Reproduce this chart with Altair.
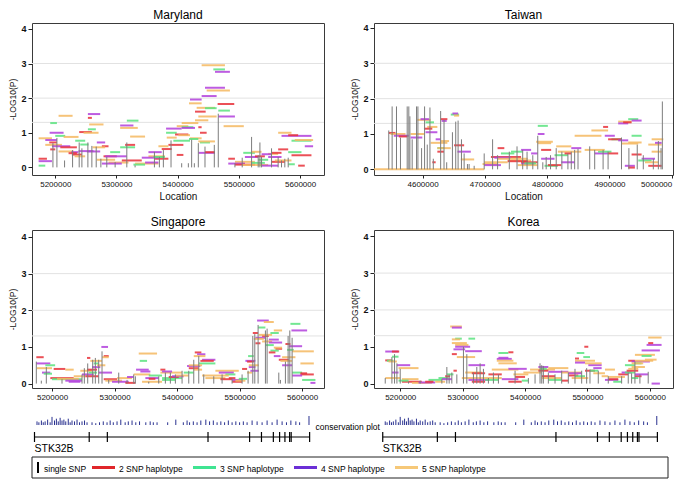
import altair as alt
import pandas as pd

FONT = "Liberation Sans"

# ---------------- shared categories / styles ----------------
hap_types = ["2 SNP haplotype", "3 SNP haplotype", "4 SNP haplotype", "5 SNP haplotype"]
hap_colors = ["#e8313a", "#5be37f", "#b23fdc", "#f5b860"]
legend_hap_colors = ["#e0262a", "#3fe492", "#6b2fd6", "#f6c878"]
ref_lines = [1.3, 2, 3]
y_ticks = [0, 1, 2, 3, 4]
x_ticks_chr = [5200000, 5300000, 5400000, 5500000, 5600000]
x_ticks_tw = [4600000, 4700000, 4800000, 4900000, 5000000]

# ---------------- Maryland ----------------
md_snp = [
    (5196200, 0.70), (5202700, 0.85), (5215200, 0.20), (5228300, 0.50), (5239100, 0.72),
    (5243500, 0.55), (5253300, 0.72), (5259800, 0.62), (5266900, 0.60), (5274500, 0.25),
    (5284200, 0.30), (5297800, 0.15), (5316900, 0.72), (5330400, 0.06), (5362000, 0.45),
    (5370100, 0.30), (5376600, 0.50), (5389100, 0.78), (5406500, 0.12), (5417400, 0.12),
    (5422800, 0.80), (5427200, 0.12), (5433700, 0.70), (5444600, 0.60), (5459800, 0.65),
    (5466300, 1.55), (5493500, 0.12), (5505400, 0.28), (5520700, 0.88), (5531500, 0.35),
    (5534300, 0.72), (5537000, 0.30), (5553300, 0.55), (5564100, 0.30), (5569600, 0.20),
    (5575000, 0.25), (5580500, 0.28),
]
md_hap = [
    (5205400, 5228300, 1.49, 5), (5191800, 5202700, 1.28, 3), (5190800, 5213600, 1.00, 4),
    (5200000, 5216300, 0.91, 3), (5213600, 5238000, 0.88, 5), (5172800, 5194600, 0.84, 5),
    (5183700, 5202700, 0.79, 4), (5190200, 5202700, 0.72, 2), (5183700, 5210900, 0.65, 5),
    (5194600, 5224500, 0.61, 4), (5208200, 5235300, 0.58, 2), (5205400, 5229900, 0.46, 5),
    (5172800, 5186400, 0.25, 2), (5172800, 5194600, 0.18, 4), (5172800, 5183700, 0.05, 3),
    (5191800, 5200000, 0.52, 2), (5239100, 5259800, 1.02, 2), (5246200, 5270700, 1.00, 5),
    (5232600, 5248900, 0.77, 3), (5240800, 5254400, 0.66, 3), (5238000, 5262500, 0.47, 4),
    (5226100, 5238000, 0.44, 4), (5227200, 5243500, 0.37, 2), (5231500, 5248900, 0.32, 5),
    (5221700, 5235300, 0.41, 2), (5253300, 5273400, 1.54, 4), (5253300, 5259800, 1.43, 2),
    (5253300, 5266300, 1.10, 3), (5255400, 5278800, 1.24, 5), (5251600, 5273400, 0.46, 4),
    (5267900, 5281500, 0.72, 4), (5276100, 5287000, 0.61, 2), (5260900, 5281500, 0.58, 5),
    (5278800, 5300500, 0.32, 2), (5281500, 5316900, 0.32, 4), (5289700, 5306000, 0.44, 3),
    (5267900, 5297800, 0.22, 5), (5287000, 5319600, 0.14, 5), (5306000, 5330400, 0.58, 3),
    (5314100, 5330400, 0.65, 2), (5306000, 5327700, 1.21, 4), (5316900, 5335900, 1.35, 3),
    (5306000, 5334800, 1.14, 5), (5322300, 5346700, 0.89, 5), (5308700, 5341300, 0.20, 2),
    (5276100, 5308700, 0.11, 4), (5330400, 5368500, 0.11, 5), (5327700, 5346700, 0.08, 3),
    (5346700, 5368500, 0.14, 4), (5352200, 5379300, 0.32, 5), (5352200, 5373900, 0.44, 4),
    (5363000, 5384800, 0.25, 2), (5341300, 5368500, 0.28, 4), (5373900, 5390200, 0.53, 2),
    (5360300, 5379300, 0.30, 3), (5381000, 5406500, 1.12, 4), (5398400, 5417400, 1.19, 5),
    (5381000, 5398400, 1.00, 3), (5382100, 5398400, 0.86, 5), (5395700, 5417400, 0.95, 2),
    (5401100, 5420100, 0.93, 5), (5384800, 5409300, 0.65, 2), (5368500, 5384800, 0.61, 5),
    (5392900, 5420100, 0.77, 3), (5398400, 5409300, 0.36, 2),
    (5439100, 5477200, 2.95, 5), (5458200, 5477200, 2.83, 3), (5460900, 5485300, 2.76, 4),
    (5444600, 5477200, 2.30, 4), (5447300, 5485300, 2.22, 5), (5439100, 5463600, 2.06, 4),
    (5420100, 5439100, 1.96, 4), (5418500, 5439100, 1.85, 5), (5465200, 5492400, 1.83, 2),
    (5431000, 5460900, 1.72, 5), (5444600, 5463600, 1.71, 3), (5466300, 5485300, 1.64, 3),
    (5428300, 5445700, 1.61, 2), (5433700, 5463600, 1.47, 5), (5466300, 5493500, 1.47, 4),
    (5428300, 5450000, 1.36, 5), (5406500, 5433700, 1.28, 5), (5475000, 5508000, 1.19, 5),
    (5433700, 5439100, 1.16, 2), (5406500, 5425600, 1.16, 3), (5406500, 5428300, 1.14, 4),
    (5436400, 5447300, 1.00, 2), (5420100, 5439100, 0.84, 5), (5418500, 5433700, 0.82, 3),
    (5436400, 5452700, 0.72, 3), (5433700, 5460900, 0.75, 5), (5433700, 5460900, 0.42, 4),
    (5444600, 5460900, 0.44, 2),
    (5564100, 5585900, 1.00, 5), (5569600, 5618500, 0.91, 4), (5580500, 5596800, 0.93, 2),
    (5585900, 5618500, 0.77, 3), (5591300, 5621200, 0.79, 5), (5607600, 5621200, 0.61, 4),
    (5564100, 5580500, 0.52, 2), (5580500, 5602200, 0.44, 3), (5547800, 5564100, 0.39, 5),
    (5585900, 5618500, 0.35, 2), (5507100, 5526100, 0.42, 3), (5482600, 5493500, 0.25, 2),
    (5509800, 5531500, 0.30, 4), (5526100, 5542400, 0.32, 2), (5531500, 5547800, 0.22, 3),
    (5493500, 5526100, 0.16, 5), (5482600, 5509800, 0.11, 4), (5493500, 5526100, 0.08, 2),
    (5505400, 5547800, 0.07, 5), (5520700, 5542400, 0.13, 3), (5537000, 5564100, 0.05, 4),
    (5553300, 5575000, 0.16, 2), (5558700, 5585900, 0.20, 5), (5547800, 5569600, 0.30, 4),
    (5596800, 5607600, 0.05, 2), (5580500, 5591300, 0.09, 3), (5520700, 5537000, 0.45, 5),
    (5537000, 5553300, 0.38, 4), (5553300, 5569600, 0.42, 2),
]

# ---------------- Taiwan ----------------
tw_snp = [
    (4545700, 1.10), (4551100, 1.78), (4558100, 1.78), (4564500, 0.90), (4575300, 1.78),
    (4577900, 1.78), (4579600, 1.50), (4583300, 0.85), (4590300, 1.78), (4592500, 1.78),
    (4598400, 0.60), (4603200, 1.78), (4607500, 0.70), (4611800, 1.75), (4617200, 0.30),
    (4629000, 1.65), (4634400, 1.40), (4638700, 0.20), (4647900, 1.05), (4653200, 1.35),
    (4657000, 1.38), (4662400, 0.85), (4666700, 0.45), (4672000, 0.15), (4674700, 0.15),
    (4682800, 0.10), (4698900, 0.45), (4712400, 0.85), (4720400, 0.40), (4739200, 0.50),
    (4751600, 0.65), (4760700, 0.55), (4767700, 0.50), (4776900, 0.40), (4784900, 0.95),
    (4793000, 0.20), (4798400, 0.35), (4805400, 0.40), (4814500, 0.60), (4823600, 0.50),
    (4833300, 0.45), (4838700, 0.50), (4844100, 0.55), (4849500, 0.58), (4868300, 0.65),
    (4876300, 0.55), (4889800, 0.55), (4897800, 0.50), (4919300, 0.90), (4931200, 0.60),
    (4944600, 0.70), (4954300, 0.40), (4970400, 0.30), (4978500, 0.80), (4982800, 0.60),
    (4984900, 1.92),
]
tw_hap = [
    (4521500, 4698900, 0.00, 5), (4545700, 4556500, 1.03, 2), (4548400, 4572600, 1.00, 5),
    (4553800, 4577900, 0.95, 4), (4561800, 4575300, 0.93, 2), (4591400, 4612900, 1.40, 5),
    (4596700, 4610200, 1.42, 4), (4604800, 4618300, 1.33, 3), (4607500, 4623700, 1.20, 5),
    (4602200, 4615600, 1.15, 2), (4604800, 4623700, 1.05, 4), (4580700, 4602200, 1.00, 5),
    (4580700, 4599500, 0.90, 4), (4621000, 4629000, 0.85, 4), (4612900, 4639800, 0.75, 5),
    (4629000, 4639800, 1.42, 2), (4630600, 4638700, 1.37, 4), (4645200, 4658600, 1.55, 3),
    (4647900, 4657000, 1.58, 4), (4650500, 4658600, 1.52, 5), (4629000, 4642500, 0.80, 5),
    (4650500, 4666700, 0.68, 2), (4655900, 4677400, 0.50, 4), (4623700, 4634400, 0.60, 3),
    (4623700, 4645200, 0.60, 5), (4623700, 4634400, 0.50, 2), (4615600, 4621000, 0.20, 2),
    (4661300, 4682800, 0.28, 5), (4720400, 4731200, 0.60, 2), (4696200, 4720400, 0.15, 5),
    (4698900, 4736600, 0.20, 5), (4698900, 4725800, 0.12, 4), (4725800, 4747300, 0.45, 3),
    (4709700, 4758100, 0.35, 2), (4715100, 4741900, 0.33, 4), (4720400, 4768800, 0.30, 5),
    (4736600, 4774200, 0.25, 5), (4736600, 4768800, 0.23, 2), (4741900, 4760700, 0.50, 3),
    (4758100, 4774200, 0.55, 4), (4758100, 4784900, 0.20, 2), (4758100, 4779600, 0.15, 4),
    (4752700, 4784900, 0.12, 5), (4763400, 4782300, 0.17, 3), (4784900, 4801100, 1.23, 3),
    (4784900, 4795700, 1.00, 4), (4782300, 4809100, 0.78, 5), (4784900, 4806400, 0.74, 5),
    (4774200, 4784900, 0.45, 4), (4814500, 4838700, 0.65, 5), (4790300, 4806400, 0.55, 2),
    (4790300, 4811800, 0.30, 4), (4795700, 4817200, 0.10, 3), (4801100, 4822600, 0.12, 2),
    (4817200, 4854800, 0.50, 5), (4838700, 4854800, 0.60, 4), (4811800, 4833300, 0.40, 3),
    (4827900, 4838700, 0.45, 2), (4822600, 4844100, 0.20, 4), (4844100, 4887100, 0.95, 5),
    (4871000, 4897800, 1.10, 5), (4889800, 4897800, 1.20, 2), (4892500, 4908600, 0.95, 4),
    (4903200, 4919300, 0.85, 3), (4897800, 4919300, 0.85, 2), (4914000, 4930100, 0.82, 4),
    (4919300, 4946200, 0.73, 5), (4930100, 4951600, 0.76, 5), (4935500, 4951600, 0.95, 3),
    (4914000, 4935500, 1.35, 5), (4930100, 4946200, 1.42, 3), (4935500, 4951600, 1.38, 4),
    (4914000, 4930100, 1.30, 4), (4922000, 4935500, 1.33, 2), (4876300, 4897800, 0.45, 4),
    (4881700, 4903200, 0.50, 3), (4860200, 4892500, 0.55, 5), (4897800, 4914000, 0.45, 2),
    (4935500, 4951600, 0.42, 2), (4951600, 4973100, 0.30, 4), (4946200, 4967700, 0.25, 3),
    (4957000, 4978500, 0.20, 5), (4962300, 4983800, 0.10, 2), (4962300, 4983800, 0.70, 5),
    (4973100, 4983800, 0.75, 4), (4967700, 4986500, 0.85, 5), (4967700, 4983800, 0.50, 5),
    (4924700, 4940800, 0.10, 4), (4930100, 4940800, 0.05, 2),
]

# ---------------- Singapore ----------------
sg_snp = [
    (5174900, 0.60), (5182900, 0.08), (5190900, 0.45), (5216000, 0.12), (5248000, 0.25),
    (5251700, 0.42), (5257100, 0.55), (5265100, 0.65), (5269300, 0.70), (5274700, 0.65),
    (5280000, 0.88), (5290700, 0.10), (5306700, 0.30), (5320000, 0.10), (5330700, 0.25),
    (5333300, 0.20), (5354700, 0.05), (5370700, 0.20), (5381300, 0.30), (5389300, 0.30),
    (5397300, 0.25), (5408000, 0.35), (5418700, 0.35), (5426700, 0.65), (5434700, 0.75),
    (5442700, 0.25), (5458700, 0.20), (5472000, 0.25), (5488000, 0.15), (5504000, 0.25),
    (5513600, 0.35), (5521100, 1.30), (5524300, 1.35), (5529600, 1.60), (5541300, 1.45),
    (5544000, 1.50), (5562700, 0.30), (5565300, 0.10), (5573300, 0.60), (5577600, 1.30),
    (5580300, 1.45), (5584000, 1.25),
]
sg_hap = [
    (5174900, 5186700, 0.72, 2), (5174900, 5197300, 0.55, 4), (5176000, 5200000, 0.42, 5),
    (5189300, 5205000, 0.50, 3), (5202700, 5221300, 0.40, 2), (5221300, 5234700, 0.38, 5),
    (5184000, 5197300, 0.30, 4), (5186700, 5200000, 0.27, 3), (5197300, 5234700, 0.15, 2),
    (5200000, 5248000, 0.12, 3), (5208000, 5242700, 0.13, 5), (5221300, 5248000, 0.08, 4),
    (5234700, 5253300, 0.20, 5), (5226700, 5245300, 0.05, 4), (5256000, 5261300, 0.70, 2),
    (5245300, 5264000, 0.35, 5), (5248000, 5266700, 0.25, 4), (5253300, 5274700, 0.20, 2),
    (5258700, 5272000, 0.30, 3), (5266700, 5274700, 0.55, 3), (5264000, 5277300, 0.45, 4),
    (5256000, 5272000, 0.38, 2), (5261300, 5280000, 0.62, 5), (5278900, 5289600, 1.00, 4),
    (5282700, 5290700, 0.75, 2), (5280000, 5290700, 0.72, 5), (5272000, 5285300, 0.50, 5),
    (5274700, 5296000, 0.30, 4), (5282700, 5304000, 0.12, 2), (5285300, 5312000, 0.08, 5),
    (5296000, 5322700, 0.05, 4), (5304000, 5328000, 0.15, 5), (5317300, 5333300, 0.02, 2),
    (5320000, 5330700, 0.18, 4), (5338700, 5368000, 0.82, 5), (5340300, 5352000, 0.62, 3),
    (5334400, 5354700, 0.38, 4), (5341300, 5357300, 0.33, 4), (5330700, 5357300, 0.25, 5),
    (5354700, 5376000, 0.22, 3), (5349300, 5370700, 0.15, 4), (5354700, 5365300, 0.13, 2),
    (5344000, 5376000, 0.05, 5), (5373300, 5381300, 0.38, 2), (5373300, 5408000, 0.30, 5),
    (5376000, 5392000, 0.33, 4), (5376000, 5408000, 0.15, 3), (5386700, 5402700, 0.18, 2),
    (5392000, 5410700, 0.20, 4), (5397300, 5418700, 0.22, 5), (5376000, 5397300, 0.10, 3),
    (5428300, 5438900, 0.85, 2), (5432000, 5445300, 0.80, 4), (5426700, 5445300, 0.75, 5),
    (5440000, 5461300, 0.65, 4), (5437300, 5458700, 0.62, 2), (5434700, 5461300, 0.55, 3),
    (5416000, 5437300, 0.48, 4), (5418700, 5440000, 0.50, 5), (5418700, 5434700, 0.42, 2),
    (5426700, 5440000, 0.38, 5), (5410700, 5426700, 0.30, 3), (5445300, 5477300, 0.15, 5),
    (5461300, 5498700, 0.35, 5), (5466700, 5490700, 0.30, 4), (5477300, 5493300, 0.25, 3),
    (5440000, 5482700, 0.22, 5), (5469300, 5488000, 0.12, 2), (5488000, 5504000, 0.10, 4),
    (5488000, 5504000, 0.05, 2), (5493300, 5509300, 0.08, 5), (5498700, 5512000, 0.13, 3),
    (5482700, 5493300, 0.15, 2), (5504000, 5512000, 0.40, 2), (5512000, 5520000, 0.30, 5),
    (5509300, 5525300, 0.62, 4), (5512000, 5522700, 0.60, 2), (5513600, 5522700, 0.75, 3),
    (5514700, 5525300, 0.45, 4), (5517300, 5530700, 0.35, 4), (5514700, 5530700, 0.50, 5),
    (5521100, 5529600, 1.38, 2), (5528000, 5546700, 1.72, 4), (5538700, 5554700, 1.68, 5),
    (5529600, 5541300, 1.53, 3), (5536000, 5546700, 1.30, 2), (5530700, 5552000, 1.33, 5),
    (5525300, 5541300, 1.25, 4), (5522700, 5538700, 1.22, 5), (5525300, 5533300, 1.10, 2),
    (5554700, 5568000, 1.45, 5), (5549300, 5562700, 1.38, 3), (5546700, 5562700, 1.20, 4),
    (5536000, 5552000, 1.15, 5), (5546700, 5568000, 1.12, 4), (5541300, 5554700, 1.05, 3),
    (5557300, 5568000, 0.95, 2), (5554700, 5568000, 0.98, 5), (5549300, 5562700, 0.90, 3),
    (5546700, 5557300, 0.85, 2), (5554700, 5565300, 0.75, 4), (5573300, 5581300, 1.08, 2),
    (5578700, 5600000, 1.02, 4), (5576000, 5586700, 0.92, 3), (5584000, 5618700, 0.88, 5),
    (5568000, 5589300, 0.72, 5), (5562700, 5578700, 0.65, 2), (5565300, 5584000, 0.62, 5),
    (5568000, 5584000, 0.50, 4), (5584000, 5600000, 0.30, 3), (5597300, 5608000, 0.28, 2),
    (5597300, 5618700, 0.25, 2), (5584000, 5600000, 0.22, 4), (5600000, 5621300, 0.10, 3),
    (5613300, 5621300, 0.02, 4), (5581300, 5597300, 1.63, 3), (5582900, 5608000, 1.45, 4),
    (5597300, 5618700, 0.55, 5),
]

# ---------------- Korea ----------------
ko_snp = [
    (5176000, 0.15), (5186700, 0.72), (5190900, 0.80), (5194700, 0.55), (5200000, 0.40),
    (5213300, 0.05), (5232000, 0.08), (5266700, 0.12), (5274700, 0.45), (5278400, 0.25),
    (5282700, 0.30), (5290700, 0.25), (5301300, 1.00), (5306700, 0.80), (5317300, 0.30),
    (5322700, 0.45), (5328000, 0.55), (5333300, 0.40), (5341300, 0.15), (5349300, 0.30),
    (5357300, 0.25), (5384000, 0.35), (5405300, 0.15), (5416000, 0.25), (5424000, 0.55),
    (5426700, 0.50), (5429300, 0.48), (5437300, 0.30), (5448000, 0.25), (5458700, 0.35),
    (5469300, 0.30), (5480000, 0.40), (5490700, 0.35), (5498700, 0.42), (5504000, 0.38),
    (5517300, 0.35), (5533300, 0.20), (5554700, 0.20), (5565300, 0.30), (5570700, 0.28),
    (5576000, 0.60), (5584000, 0.25), (5597300, 0.32),
]
ko_hap = [
    (5176000, 5197300, 0.87, 4), (5186700, 5198400, 0.87, 2), (5176000, 5186700, 0.63, 2),
    (5178700, 5189300, 0.62, 3), (5186700, 5197300, 0.73, 3), (5181300, 5194700, 0.60, 5),
    (5194700, 5216000, 0.50, 4), (5197300, 5229300, 0.42, 5), (5186700, 5197300, 0.30, 4),
    (5176000, 5200000, 0.15, 5), (5202700, 5229300, 0.12, 5), (5202700, 5234700, 0.05, 2),
    (5197300, 5213300, 0.08, 3), (5218700, 5250700, 0.02, 5), (5229300, 5256000, 0.03, 4),
    (5245300, 5266700, 0.10, 3), (5240000, 5253300, 0.05, 2), (5256000, 5272000, 0.05, 5),
    (5261300, 5277300, 0.15, 3), (5266700, 5282700, 0.12, 4), (5272000, 5280000, 0.20, 2),
    (5274700, 5285300, 0.25, 3), (5285300, 5290700, 0.35, 2), (5280000, 5298700, 1.55, 5),
    (5282700, 5298700, 1.52, 4), (5288000, 5298700, 1.22, 3), (5282700, 5296000, 1.20, 5),
    (5309300, 5320000, 1.22, 3), (5282700, 5306700, 1.10, 5), (5288000, 5309300, 1.05, 5),
    (5288000, 5312000, 1.00, 4), (5285300, 5304000, 0.93, 4), (5304000, 5330700, 0.88, 4),
    (5282700, 5290700, 0.80, 2), (5290700, 5320000, 0.72, 5), (5309300, 5336000, 0.50, 4),
    (5304000, 5330700, 0.30, 5), (5314700, 5336000, 0.28, 2), (5298700, 5330700, 0.15, 5),
    (5309300, 5341300, 0.10, 4), (5314700, 5336000, 0.05, 2), (5357300, 5373300, 0.83, 3),
    (5373300, 5381300, 0.85, 2), (5354700, 5378700, 0.67, 4), (5354700, 5381300, 0.62, 5),
    (5357300, 5386700, 0.55, 5), (5357300, 5373300, 0.70, 4), (5346700, 5389300, 0.38, 5),
    (5373300, 5402700, 0.40, 4), (5341300, 5362700, 0.25, 2), (5330700, 5362700, 0.15, 5),
    (5336000, 5357300, 0.10, 3), (5362700, 5389300, 0.12, 4), (5373300, 5394700, 0.05, 2),
    (5381300, 5405300, 0.25, 5), (5384000, 5400000, 0.18, 2), (5394700, 5405300, 0.08, 3),
    (5397300, 5426700, 0.30, 5), (5408000, 5448000, 0.38, 5), (5421300, 5437300, 0.35, 2),
    (5421300, 5437300, 0.45, 4), (5424000, 5434700, 0.40, 3), (5437300, 5469300, 0.42, 5),
    (5437300, 5469300, 0.32, 4), (5426700, 5448000, 0.20, 2), (5426700, 5458700, 0.15, 5),
    (5437300, 5458700, 0.10, 3), (5458700, 5469300, 0.08, 2), (5458700, 5490700, 0.30, 5),
    (5469300, 5490700, 0.28, 4), (5469300, 5485300, 0.22, 2), (5480000, 5496000, 0.20, 3),
    (5474700, 5501300, 0.15, 5), (5480000, 5486400, 0.68, 2), (5482700, 5494900, 0.83, 3),
    (5480000, 5512000, 0.62, 5), (5480000, 5496000, 0.57, 4), (5501300, 5522700, 0.50, 4),
    (5494900, 5501300, 1.00, 2), (5493300, 5504000, 0.72, 3), (5496000, 5522700, 0.55, 5),
    (5496000, 5512000, 0.35, 2), (5504000, 5517300, 0.35, 3), (5509300, 5528000, 0.28, 5),
    (5522700, 5533300, 0.20, 5), (5528000, 5549300, 0.10, 4), (5533300, 5549300, 0.12, 2),
    (5533300, 5560000, 0.18, 5), (5541300, 5554700, 0.05, 3), (5509300, 5522700, 0.42, 4),
    (5528000, 5544000, 0.38, 5), (5549300, 5565300, 0.25, 2), (5554700, 5570700, 0.30, 4),
    (5560000, 5576000, 0.30, 3), (5562700, 5581300, 0.35, 2), (5565300, 5581300, 0.40, 5),
    (5560000, 5576000, 0.50, 3), (5565300, 5576000, 0.62, 2), (5570700, 5600000, 0.60, 4),
    (5576000, 5605300, 0.62, 5), (5576000, 5586700, 0.55, 3), (5576000, 5608000, 0.78, 5),
    (5586700, 5602700, 0.75, 3), (5586700, 5616000, 0.90, 4), (5597300, 5618700, 1.25, 5),
    (5594700, 5618700, 1.05, 4), (5597300, 5605300, 1.10, 2), (5592000, 5610700, 0.65, 5),
    (5576000, 5586700, 0.20, 2), (5570700, 5581300, 0.15, 3), (5576000, 5597300, 0.25, 4),
    (5602700, 5616000, 0.00, 4), (5570700, 5589300, 0.55, 5), (5570700, 5592000, 0.45, 5),
]

# ---------------- gene track (STK32B) ----------------
gene_name = "STK32B"
gene_span = (5172000, 5612000)
exon_pos = [5172000, 5259500, 5288500, 5449500, 5516000, 5535000, 5554000,
            5564000, 5572500, 5580000, 5582500, 5612000]
cons = [
    (5176000, 0.4), (5179000, 0.3), (5183000, 0.5), (5186000, 0.3), (5189000, 0.4),
    (5193000, 0.6), (5197000, 0.3), (5200000, 0.9), (5204000, 0.5), (5207000, 0.7),
    (5210000, 0.4), (5213000, 0.8), (5216000, 0.5), (5219000, 0.6), (5222000, 0.4),
    (5226000, 0.7), (5229000, 0.3), (5232000, 0.5), (5236000, 0.4), (5240000, 0.6),
    (5244000, 0.3), (5248000, 0.4), (5252000, 0.5), (5256000, 0.3), (5264000, 0.3),
    (5270000, 0.2), (5276000, 0.3), (5282000, 0.4), (5288000, 0.3), (5293000, 0.5),
    (5298000, 0.3), (5304000, 0.4), (5310000, 0.6), (5317000, 0.3), (5322000, 0.4),
    (5328000, 0.5), (5334000, 0.3), (5340000, 0.4), (5350000, 0.3), (5357000, 0.4),
    (5362000, 0.3), (5368000, 0.3), (5385000, 0.3), (5398000, 0.6), (5410000, 0.3),
    (5416000, 0.5), (5420000, 0.3), (5426000, 0.4), (5432000, 0.3), (5438000, 0.5),
    (5446000, 0.6), (5452000, 0.4), (5458000, 0.5), (5464000, 0.3), (5470000, 0.4),
    (5476000, 0.3), (5482000, 0.5), (5488000, 0.3), (5494000, 0.4), (5500000, 0.3),
    (5506000, 0.4), (5512000, 0.3), (5520000, 0.5), (5528000, 0.4), (5536000, 0.3),
    (5544000, 0.5), (5552000, 0.3), (5560000, 0.6), (5568000, 0.4), (5575000, 0.3),
    (5582000, 0.5), (5590000, 0.4), (5596000, 0.3), (5611000, 1.0),
]
cons_caption = "conservation plot"

legend_single = "single SNP"
legend_order = [1, 2, 3, 4]


def panel(title, snps, haps, xdom, ydom, xticks, w, h, xtitle=None, flush=False):
    snp_df = pd.DataFrame(snps, columns=["pos", "logp"])
    hap_df = pd.DataFrame(haps, columns=["start", "end", "logp", "n"])
    hap_df["type"] = [hap_types[n - 2] for n in hap_df["n"]]
    ref_df = pd.DataFrame({"y": ref_lines})
    xs = alt.Scale(domain=xdom, nice=False, zero=False)
    ys = alt.Scale(domain=ydom, nice=False, zero=False)
    xkw = dict(values=xticks, format="d", labelFontSize=8, tickSize=3, labelOverlap=False,
               titleFontSize=10, titleFontWeight="normal", titlePadding=3, labelPadding=2)
    xkw["title"] = xtitle if xtitle else None
    if flush:
        xkw["labelFlush"] = 12
    xaxis = alt.Axis(**xkw)
    yaxis = alt.Axis(values=y_ticks, title="-LOG10(P)", labelFontSize=9, labelFontWeight="bold",
                     tickSize=4, labelPadding=2, titleFontSize=8.5, titleFontWeight="normal",
                     titlePadding=3)
    grid = alt.Chart(ref_df).mark_rule(color="#e2e2e2", strokeWidth=1).encode(
        y=alt.Y("y:Q", scale=ys, axis=yaxis))
    hap = alt.Chart(hap_df).mark_rule(strokeWidth=2, opacity=0.85, clip=True).encode(
        x=alt.X("start:Q", scale=xs, axis=xaxis),
        x2="end:Q",
        y=alt.Y("logp:Q", scale=ys, axis=yaxis),
        color=alt.Color("type:N", scale=alt.Scale(domain=hap_types, range=hap_colors), legend=None),
    )
    snp = alt.Chart(snp_df).mark_rule(color="#7c7c7c", strokeWidth=1, clip=True).encode(
        x=alt.X("pos:Q", scale=xs, axis=xaxis),
        y=alt.Y("logp:Q", scale=ys, axis=yaxis),
        y2=alt.datum(0),
    )
    return alt.layer(grid, hap, snp).properties(
        width=w, height=h,
        title=alt.TitleParams(title, fontSize=12, fontWeight="normal", offset=1, font=FONT, color="black"),
        view=alt.ViewBackground(stroke="#3a3a3a", strokeWidth=1),
    )


# track layout (pixels relative to the track view's top edge; it sits 55px under the panels)
BASE = -18      # conservation baseline
GENE_Y = -6
LEG_TOP, LEG_BOT = 14, 35


def track(xdom, w, h, with_caption_and_legend):
    xs = alt.Scale(domain=xdom, nice=False, zero=False)
    cons_df = pd.DataFrame(cons, columns=["pos", "h"])
    gene_df = pd.DataFrame({"start": [gene_span[0]], "end": [gene_span[1]], "name": [gene_name]})
    exon_df = pd.DataFrame({"pos": exon_pos})
    bars = alt.Chart(cons_df).mark_rule(color="#2a3290", strokeWidth=1).encode(
        x=alt.X("pos:Q", scale=xs, axis=None),
        y=alt.Y("h:Q", scale=alt.Scale(domain=[0, 1], range=[BASE, BASE - 9]), axis=None),
        y2=alt.value(BASE),
    )
    line = alt.Chart(gene_df).mark_rule(color="black", strokeWidth=1.2).encode(
        x=alt.X("start:Q", scale=xs, axis=None), x2="end:Q", y=alt.value(GENE_Y))
    ticks = alt.Chart(exon_df).mark_rule(color="black", strokeWidth=1.2).encode(
        x=alt.X("pos:Q", scale=xs, axis=None), y=alt.value(GENE_Y - 5), y2=alt.value(GENE_Y + 5))
    name = alt.Chart(gene_df).mark_text(align="left", baseline="alphabetic", fontSize=10.5,
                                        font=FONT, color="black").encode(
        x=alt.X("start:Q", scale=xs, axis=None), y=alt.value(GENE_Y + 15), text="name:N")
    layers = [bars, line, ticks, name]
    if with_caption_and_legend:
        cap_df = pd.DataFrame({"pos": [gene_span[1]], "txt": [cons_caption]})
        layers.append(alt.Chart(cap_df).mark_text(align="left", baseline="middle", fontSize=8.5,
                                                  dx=6, font=FONT, color="black").encode(
            x=alt.X("pos:Q", scale=xs, axis=None), y=alt.value(BASE + 2), text="txt:N"))
        # legend box
        mid = (LEG_TOP + LEG_BOT) / 2
        leg_df = pd.DataFrame({"label": hap_types, "color": legend_hap_colors, "order": legend_order})
        ls = alt.Scale(domain=[0.406, 0.406 + w / 101.0], nice=False, zero=False)
        single_df = pd.DataFrame({"label": [legend_single]})
        box = alt.Chart(single_df).mark_rect(fillOpacity=0, stroke="#222222", strokeWidth=1).encode(
            x=alt.value(0), x2=alt.value(636), y=alt.value(LEG_TOP), y2=alt.value(LEG_BOT))
        sbar = alt.Chart(single_df).mark_rule(color="black", strokeWidth=2).encode(
            x=alt.value(6), y=alt.value(LEG_TOP + 5), y2=alt.value(LEG_BOT - 5))
        stext = alt.Chart(single_df).mark_text(align="left", baseline="middle", fontSize=8.5,
                                               font=FONT, color="black").encode(
            x=alt.value(12), y=alt.value(mid + 1), text="label:N")
        lines = alt.Chart(leg_df).mark_point(shape="stroke", size=529, strokeWidth=3, filled=False,
                                             opacity=1, xOffset=11.5).encode(
            x=alt.X("order:Q", scale=ls, axis=None), y=alt.value(mid),
            color=alt.Color("color:N", scale=None))
        texts = alt.Chart(leg_df).mark_text(align="left", baseline="middle", dx=27, fontSize=8.5,
                                            font=FONT, color="black").encode(
            x=alt.X("order:Q", scale=ls, axis=None), y=alt.value(mid + 1), text="label:N")
        layers += [box, sbar, stext, lines, texts]
        return alt.layer(*layers).resolve_scale(x="independent").properties(
            width=w, height=h, view=alt.ViewBackground(stroke=None))
    return alt.layer(*layers).properties(width=w, height=h, view=alt.ViewBackground(stroke=None))


LW, RW = 292, 299
H1, H2 = 152, 158

md = panel("Maryland", md_snp, md_hap, [5162000, 5639000], [-0.22, 4.17], x_ticks_chr, LW, H1, "Location")
tw = panel("Taiwan", tw_snp, tw_hap, [4522000, 5002000], [-0.16, 4.14], x_ticks_tw, RW, H1, "Location", flush=True)
sg = panel("Singapore", sg_snp, sg_hap, [5168000, 5635000], [-0.12, 4.19], x_ticks_chr, LW, H2)
ko = panel("Korea", ko_snp, ko_hap, [5158000, 5637000], [-0.12, 4.17], x_ticks_chr, RW, H2)

trL = track([5168000, 5635000], LW, 35, True)
trR = track([5158000, 5637000], RW, 35, False)

chart = alt.concat(md, tw, sg, ko, trL, trR, columns=2, spacing={"row": 55, "column": 50},
                   bounds="flush").properties(padding=0).configure(
    font=FONT
).configure_view(stroke=None).configure_axis(
    grid=False, domain=False, tickColor="#222222", labelColor="#111111", titleColor="#111111",
    labelFont=FONT, titleFont=FONT
)

chart.save("out.html", embed_options={"renderer": "svg", "actions": False})
